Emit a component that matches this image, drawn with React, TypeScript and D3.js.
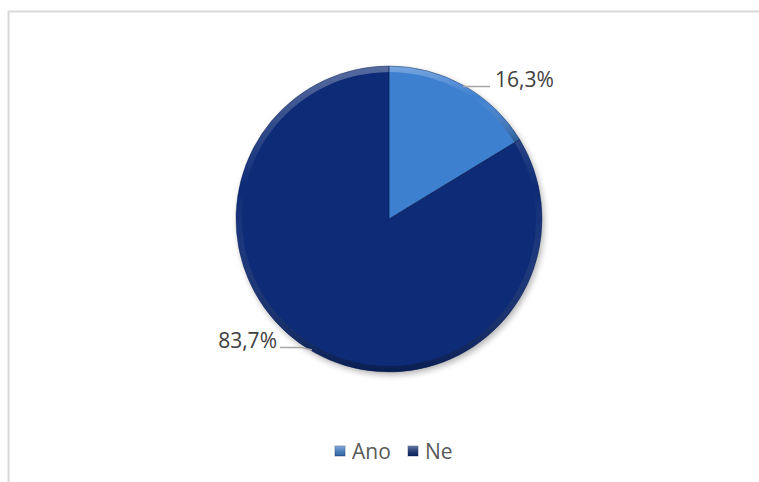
import React from "react";
import * as d3 from "d3";

const categories = ["Ano", "Ne"];
const values = [16.3, 83.7];
const labels = ["16,3%", "83,7%"];
const colors = ["#3e80d0", "#0d2b76"];

export default function App() {
  const W = 759, H = 482;
  const cx = 389, cy = 219, r = 153;
  const pie = d3.pie<number>().sort(null).value((d) => d)(values);
  const arc = d3.arc<d3.PieArcDatum<number>>().innerRadius(0).outerRadius(r);
  const rim = d3.arc<d3.PieArcDatum<number>>().innerRadius(r - 6).outerRadius(r);
  const font = "'Open Sans', Lato, sans-serif";
  return (
    <div style={{ position: "absolute", left: 0, top: 0 }}>
      <svg width={W} height={H} style={{ display: "block" }}>
        <defs>
          <linearGradient id="rimg" x1="0.5" y1="0" x2="0.5" y2="1">
            <stop offset="0" stopColor="#ffffff" stopOpacity={0.3} />
            <stop offset="0.4" stopColor="#ffffff" stopOpacity={0.0} />
            <stop offset="1" stopColor="#000000" stopOpacity={0.3} />
          </linearGradient>
          <linearGradient id="lg" x1="0" y1="0" x2="0" y2="1">
            <stop offset="0" stopColor="#ffffff" stopOpacity={0.35} />
            <stop offset="1" stopColor="#000000" stopOpacity={0.2} />
          </linearGradient>
          <filter id="sh" x="-20%" y="-20%" width="140%" height="140%">
            <feGaussianBlur stdDeviation="3" />
          </filter>
        </defs>
        <rect x={0} y={0} width={W} height={H} fill="#fff" />
        <line x1={8.5} y1={11} x2={8.5} y2={H} stroke="#d9d9d9" strokeWidth={2} />
        <line x1={8} y1={11.5} x2={W} y2={11.5} stroke="#d9d9d9" strokeWidth={2} />
        <g transform={`translate(${cx},${cy})`}>
          <circle cx={2} cy={3} r={r} fill="#000" opacity={0.3} filter="url(#sh)" />
          {pie.map((p, i) => (
            <g key={categories[i]}>
              <path d={arc(p) as string} fill={colors[i]} />
              <path d={rim(p) as string} fill="url(#rimg)" />
            </g>
          ))}
          {pie.map((p, i) => (
            <path key={"s" + i} d={arc(p) as string} fill="none" stroke="#0a1f50" strokeOpacity={0.5} strokeWidth={0.8} />
          ))}
        </g>
        <polyline points={`463,86.5 490,86.5`} fill="none" stroke="#a6a6a6" strokeWidth={1.5} />
        <text x={495} y={87} fontSize={21} fill="#404040" fontFamily={font}>{labels[0]}</text>
        <polyline points={`280,347.5 302,347.5 312,350`} fill="none" stroke="#a6a6a6" strokeWidth={1.5} />
        <text x={277} y={348} fontSize={21} fill="#404040" fontFamily={font} textAnchor="end">{labels[1]}</text>
        {categories.map((c, i) => {
          const lx = [335, 408][i];
          return (
            <g key={"l" + c}>
              <rect x={lx} y={446} width={10} height={10} fill={colors[i]} stroke="#0a1f50" strokeOpacity={0.4} />
              <rect x={lx} y={446} width={10} height={10} fill="url(#lg)" />
              <text x={lx + 17} y={459} fontSize={21} fill="#595959" fontFamily={font}>{c}</text>
            </g>
          );
        })}
      </svg>
    </div>
  );
}
